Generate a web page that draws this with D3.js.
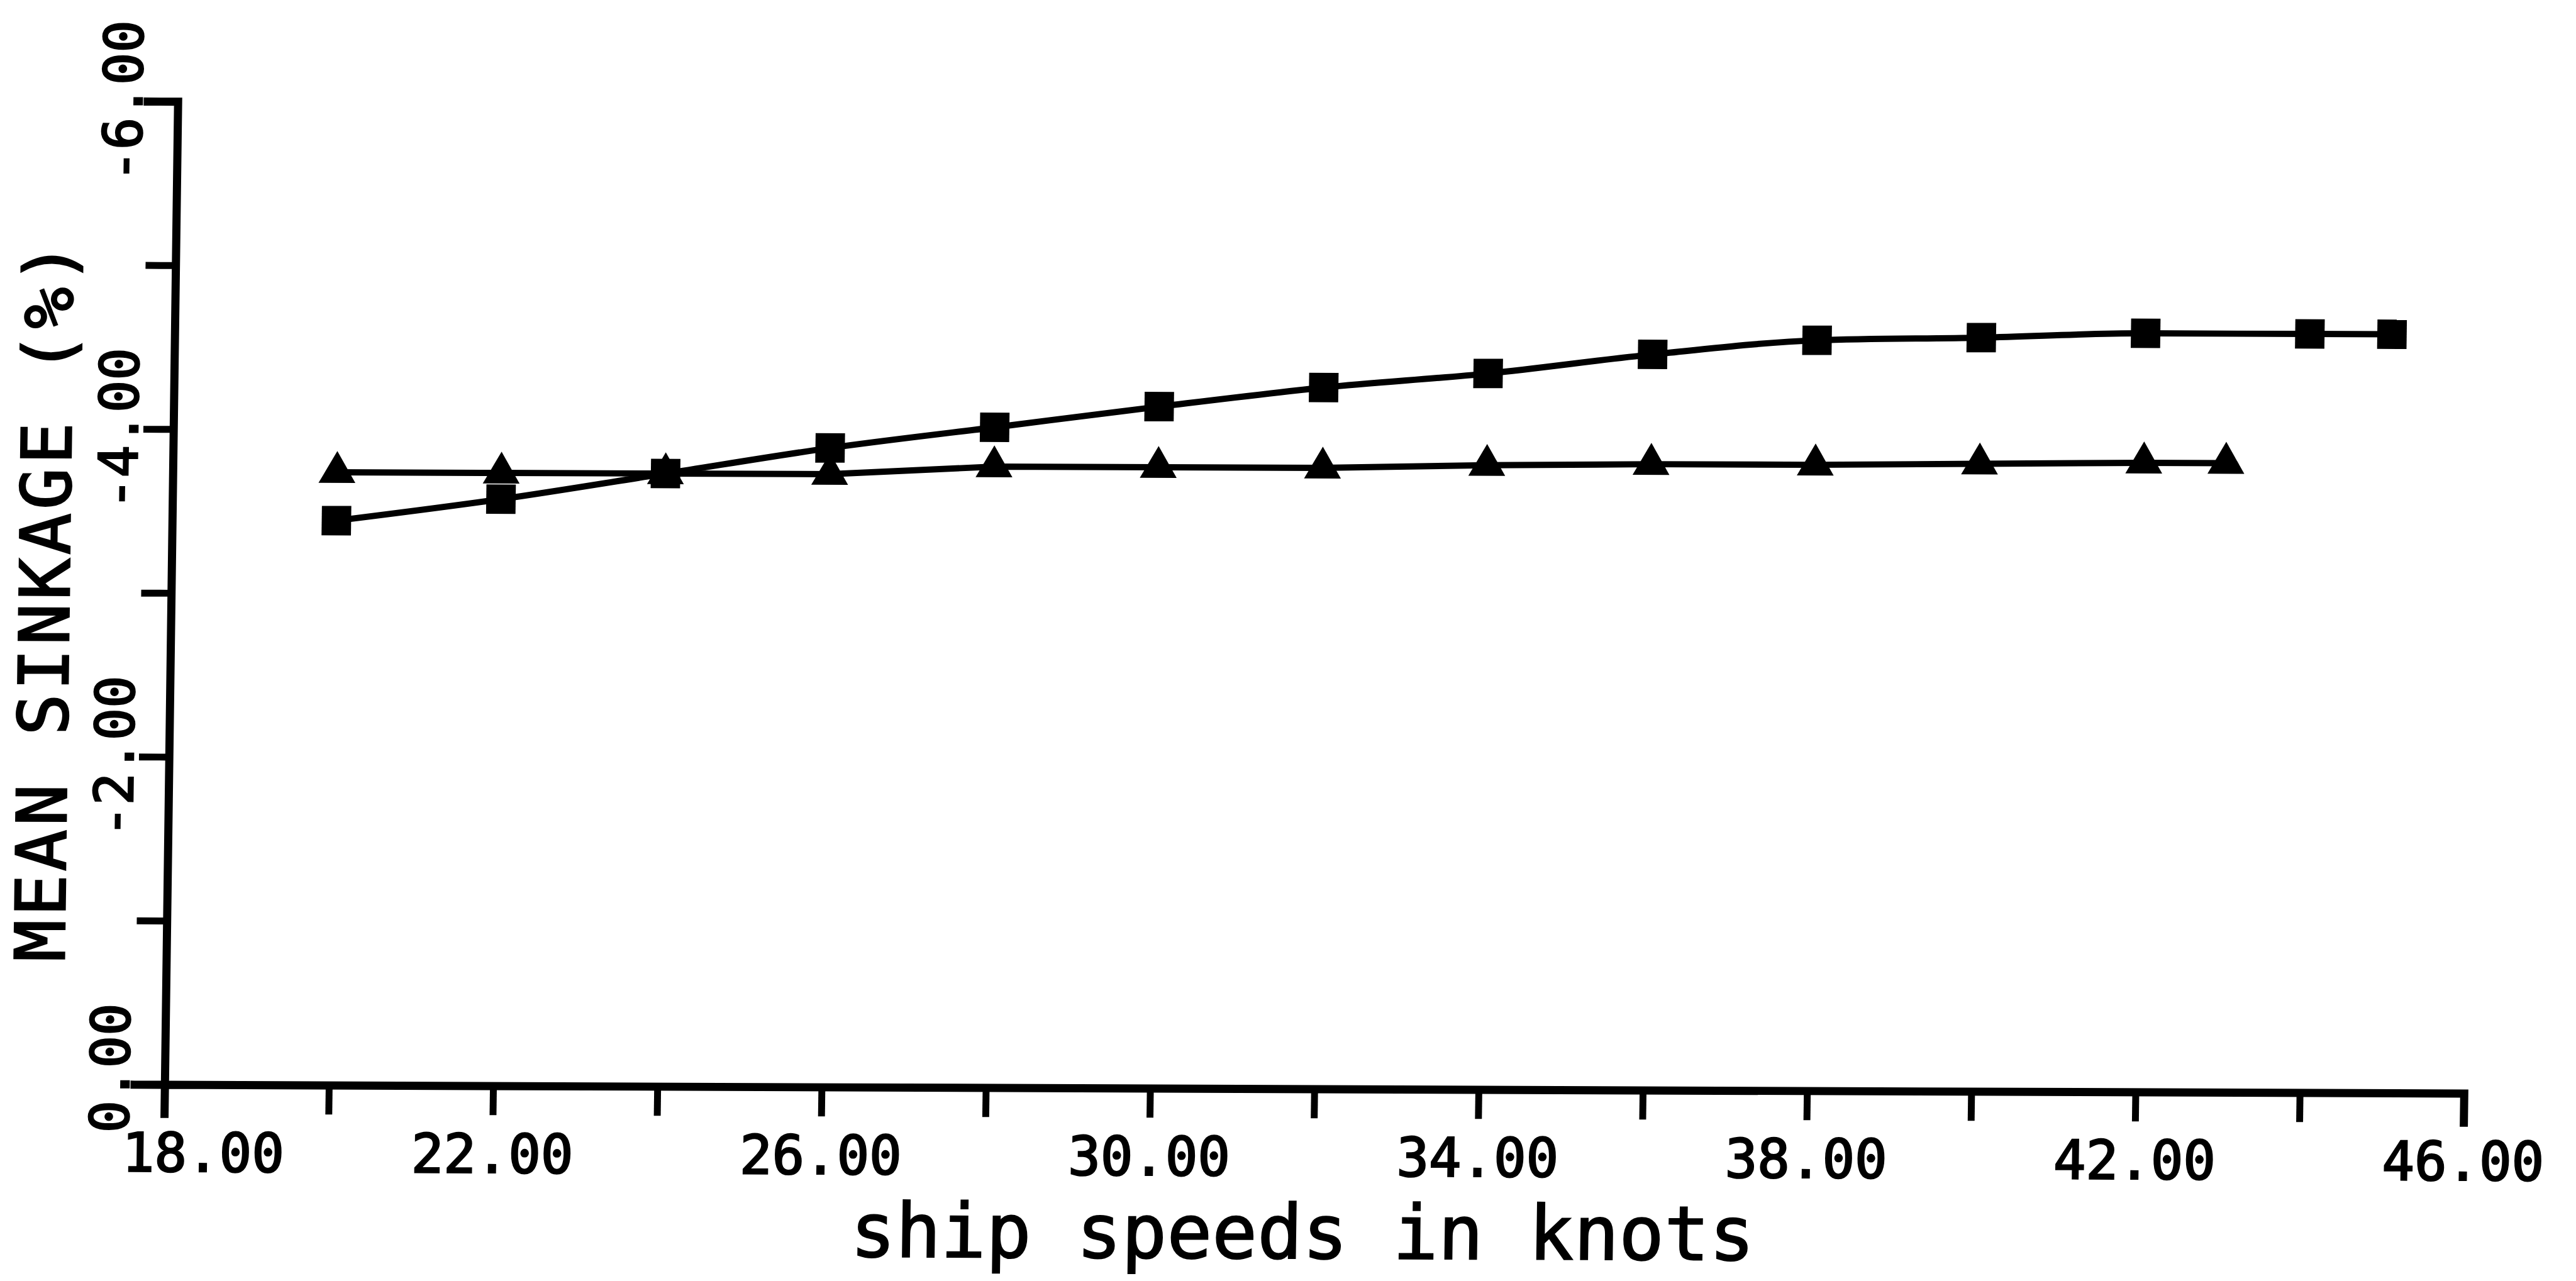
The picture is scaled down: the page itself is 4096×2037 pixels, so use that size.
<!DOCTYPE html>
<html>
<head>
<meta charset="utf-8">
<script src="https://cdn.jsdelivr.net/npm/d3@7"></script>
<style>
  html, body { margin: 0; padding: 0; background: #fff; overflow: hidden; }
</style>
</head>
<body>
<svg id="chart"></svg>
<script>
// ship speed (knots) and mean sinkage (%)
const squareSpeeds = [20, 22, 24, 26, 28, 30, 32, 34, 36, 38, 40, 42, 44, 45];
const squareSinkage = [-3.445, -3.58, -3.74, -3.90, -4.03, -4.16, -4.28, -4.37, -4.49, -4.58, -4.60, -4.63, -4.63, -4.63];

const triangleSpeeds = [20, 22, 24, 26, 28, 30, 32, 34, 36, 38, 40, 42, 43];
const triangleSinkage = [-3.74, -3.74, -3.74, -3.74, -3.79, -3.79, -3.79, -3.81, -3.82, -3.82, -3.83, -3.84, -3.84];

const xTicks = [18, 20, 22, 24, 26, 28, 30, 32, 34, 36, 38, 40, 42, 44, 46];
const xLabels = [18, 22, 26, 30, 34, 38, 42, 46];
const yTicks = [0, -1, -2, -3, -4, -5, -6];
const yLabels = [0, -2, -4, -6];

// reference canvas size, the viewBox scales it to the window
const W = 4116, H = 2047;
const svg = d3.select("#chart")
  .attr("width", 4096)
  .attr("height", 2037)
  .attr("viewBox", `0 0 ${W} ${H}`);

svg.append("rect").attr("width", W).attr("height", H).attr("fill", "#fff");

const x = d3.scaleLinear().domain([18, 46]).range([263, 3937]);
const y = d3.scaleLinear().domain([0, -6]).range([1733, 162]);

// the scan is slightly skewed, reproduce it with a small shear about the origin
const shX = -0.0134, shY = 0.0038;
const X0 = x(18), Y0 = y(0);
const g = svg.append("g")
  .attr("transform", `matrix(1, ${shY}, ${shX}, 1, ${-shX * Y0}, ${-shY * X0})`);

const font = "DejaVu Sans Mono";
const tickFont = 86;
const adv = 0.60205 * tickFont; // monospace advance

// axes
const xAxis = d3.axisBottom(x)
  .tickValues(xTicks)
  .tickSize(47)
  .tickSizeOuter(47)
  .tickFormat(() => "");

const yAxis = d3.axisLeft(y)
  .tickValues(yTicks)
  .tickSize(48)
  .tickSizeOuter(48)
  .tickFormat(() => "");

const gx = g.append("g").attr("transform", `translate(0, ${Y0})`).call(xAxis);
const gy = g.append("g").attr("transform", `translate(${X0}, 0)`).call(yAxis);

[gx, gy].forEach((ax) => {
  ax.select(".domain")
    .attr("stroke", "#000")
    .attr("stroke-width", 13)
    .attr("stroke-linecap", "square")
    .attr("stroke-linejoin", "miter")
    .attr("fill", "none");
  ax.selectAll(".tick line")
    .attr("stroke", "#000")
    .attr("stroke-width", 11);
});

// plotter lettering is heavier than the regular face, thicken it a little
const ink = (sel, w) => sel.attr("fill", "#000").attr("stroke", "#000").attr("stroke-width", w);

// x tick labels, decimal point centred on the tick (first one pushed right)
g.append("g")
  .selectAll("text")
  .data(xLabels)
  .join("text")
  .attr("x", (d, i) => x(d) + (i === 0 ? 63 : 0))
  .attr("y", 1872)
  .attr("text-anchor", "middle")
  .attr("font-family", font)
  .attr("font-size", tickFont)
  .call(ink, 2.5)
  .text((d) => d.toFixed(2));

// y tick labels, rotated, decimal point lined up with the tick
g.append("g")
  .selectAll("text")
  .data(yLabels)
  .join("text")
  .attr("transform", (d) => `translate(206, ${y(d)}) rotate(-90)`)
  .attr("x", (d) => -(d.toFixed(2).indexOf(".") + 0.5) * adv)
  .attr("text-anchor", "start")
  .attr("font-family", font)
  .attr("font-size", tickFont)
  .call(ink, 2.5)
  .text((d) => d.toFixed(2));

// axis titles
g.append("text")
  .attr("x", 1362)
  .attr("y", 2004)
  .attr("font-family", font)
  .attr("font-size", 120)
  .call(ink, 2)
  .text("ship speeds in knots");

g.append("text")
  .attr("transform", "translate(100, 1537) rotate(-90)")
  .attr("font-family", font)
  .attr("font-size", 110)
  .attr("letter-spacing", 6)
  .call(ink, 2.5)
  .text("MEAN SINKAGE (%)");

// series
const squares = squareSpeeds.map((s, i) => ({ s, v: squareSinkage[i] }));
const triangles = triangleSpeeds.map((s, i) => ({ s, v: triangleSinkage[i] }));

const line = d3.line()
  .x((d) => x(d.s))
  .y((d) => y(d.v));

g.append("path")
  .datum(squares)
  .attr("d", line.curve(d3.curveMonotoneX))
  .attr("fill", "none")
  .attr("stroke", "#000")
  .attr("stroke-width", 10);

g.append("path")
  .datum(triangles)
  .attr("d", line.curve(d3.curveLinear))
  .attr("fill", "none")
  .attr("stroke", "#000")
  .attr("stroke-width", 10);

g.append("g")
  .selectAll("path")
  .data(squares)
  .join("path")
  .attr("transform", (d) => `translate(${x(d.s)}, ${y(d.v)})`)
  .attr("d", d3.symbol(d3.symbolSquare, 47 * 47))
  .attr("fill", "#000");

g.append("g")
  .selectAll("path")
  .data(triangles)
  .join("path")
  .attr("transform", (d) => `translate(${x(d.s)}, ${y(d.v)})`)
  .attr("d", d3.symbol(d3.symbolTriangle, 1500))
  .attr("fill", "#000");
</script>
</body>
</html>
